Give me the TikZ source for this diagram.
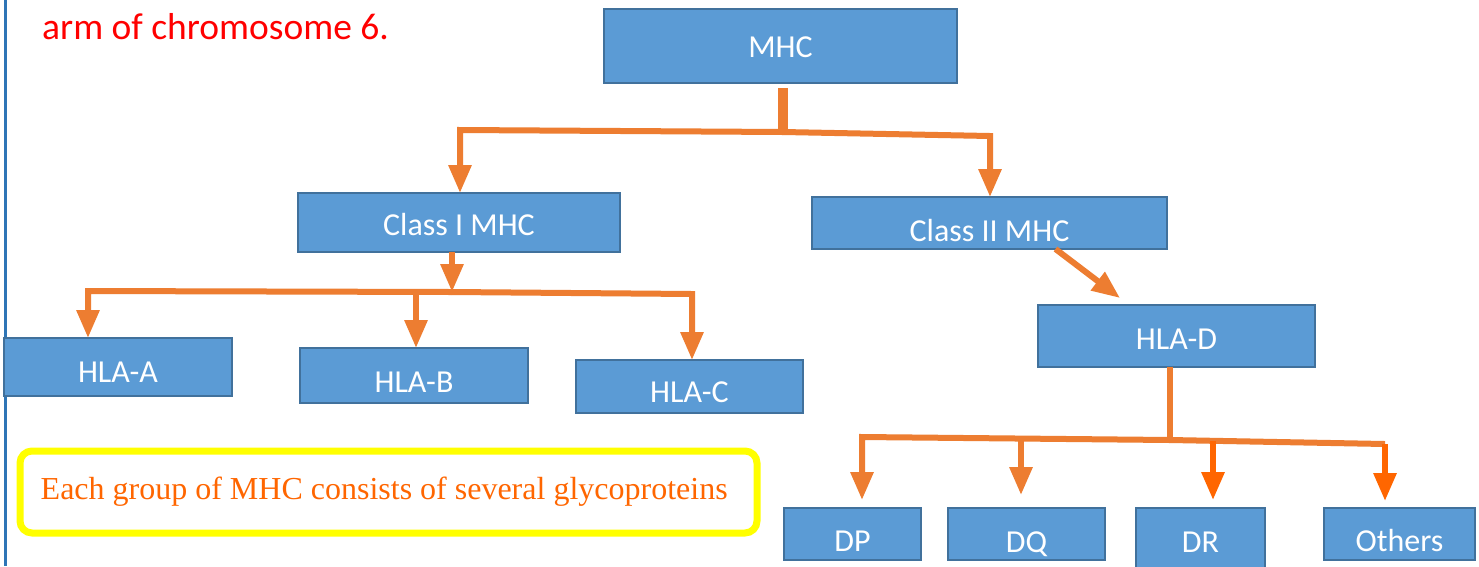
\documentclass[tikz,border=0pt]{standalone}
\usepackage{fontspec}
\setmainfont{Carlito}
\newfontfamily\notefont{Liberation Serif}
\usetikzlibrary{arrows.meta,calc}
\definecolor{boxfill}{HTML}{5B9BD5}
\definecolor{boxline}{HTML}{41719C}
\definecolor{orng}{HTML}{ED7D31}
\definecolor{orngb}{HTML}{FF6600}
\definecolor{sideblue}{HTML}{2E75B6}
\definecolor{ttlred}{HTML}{FF0000}
\definecolor{notey}{HTML}{FFFF00}
\begin{document}
\begin{tikzpicture}[x=1pt,y=-1pt,
  box/.style={draw=boxline, fill=boxfill, line width=1.5pt, text=white,
    font=\fontsize{32}{32}\selectfont, inner sep=0pt, outer sep=0pt,
    text height=#1, text depth=0pt},
  box/.default=22pt,
  conn/.style={draw=orng, line width=6pt},
  arr/.style={conn, -{Triangle[length=28pt,width=22pt]}},
]
\useasboundingbox (0,0) rectangle (1479,566);
\fill[white] (0,0) rectangle (1479,566);
\draw[sideblue, line width=3pt] (5,0) -- (5,566);

\node[anchor=west, text=ttlred, font=\fontsize{37.5}{37.5}\selectfont, inner sep=0pt] (title) at (42,27) {arm of chromosome 6.};

% boxes
\node[box=22pt, minimum width=353pt, minimum height=74pt] (mhc) at (780.5,46) {MHC};
\node[box=25pt, minimum width=322pt, minimum height=59pt] (c1) at (459,222.5) {Class I MHC};
\node[box=36pt, minimum width=355pt, minimum height=52pt] (c2) at (989.5,223) {Class II MHC};
\node[box=30pt, minimum width=228pt, minimum height=58pt] (ha) at (118,367) {HLA-A};
\node[box=33pt, minimum width=228pt, minimum height=55pt] (hb) at (414,375.5) {HLA-B};
\node[box=31pt, minimum width=227pt, minimum height=53pt] (hc) at (689.5,386.5) {HLA-C};
\node[box=26pt, minimum width=277pt, minimum height=62pt] (hd) at (1176.5,336) {HLA-D};
\node[box=34pt, minimum width=137pt, minimum height=52pt] (dp) at (852.5,534) {DP};
\node[box=36pt, minimum width=157pt, minimum height=52pt] (dq) at (1026.5,534) {DQ};
\node[box=28pt, minimum width=129pt, minimum height=60pt] (dr) at (1200.5,538) {DR};
\node[box=34pt, minimum width=151pt, minimum height=52pt] (ot) at (1399.5,534) {Others};

% note
\node[draw=notey, line width=7pt, rounded corners=12pt, minimum width=737pt, minimum height=82pt,
  inner sep=0pt] (note) at (388.5,492) {};
\node[anchor=west, text=orngb, font=\notefont\fontsize{32}{32}\selectfont, inner sep=0pt]
  (notetext) at ($(note.west)+(24,0)$) {Each group of MHC consists of several glycoproteins};

% MHC -> classes
\coordinate (j0) at (783,132);
\coordinate (jL) at (460,130);
\coordinate (jR) at (990,136);
\draw[conn, line width=10pt, shorten <=5pt] (mhc.south -| j0) -- (j0);
\draw[arr] (j0) -- (jL) -- (jL |- c1.north);
\draw[arr] (j0) -- (jR) -- (jR |- c2.north);

% Class I -> HLA-A/B/C
\coordinate (k0) at (452,292);
\coordinate (k1) at (88,291);
\coordinate (k2) at (416,292);
\coordinate (k3) at (692,294);
\draw[arr] (c1.south -| k0) -- (k0);
\draw[arr] (k0) -- (k3) -- (k3 |- hc.north);
\draw[arr] (k0) -- (k1) -- (k1 |- ha.north);
\draw[arr] (k2) -- (k2 |- hb.north);

% Class II -> HLA-D
\draw[arr] ($(c2.south)+(66,0)$) -- ($(hd.north west)+(82,-7)$);

% HLA-D -> DP/DQ/DR/Others
\coordinate (m0) at (1170,440);
\coordinate (m1) at (862,437);
\coordinate (m2) at (1021,438.5);
\coordinate (m3) at (1213,441);
\coordinate (m4) at (1385,444);
\draw[conn] (hd.south -| m0) -- (m0);
\draw[arr, shorten >=8pt] (m0) -- (m1) -- (m1 |- dp.north);
\draw[conn] (m0) -- (m4);
\draw[arr, shorten >=13pt] (m2) -- (m2 |- dq.north);
\draw[arr, draw=orngb, shorten >=8pt] (m3) -- (m3 |- dr.north);
\draw[arr, draw=orngb, shorten >=7pt] (m4) -- (m4 |- ot.north);
\end{tikzpicture}
\end{document}
